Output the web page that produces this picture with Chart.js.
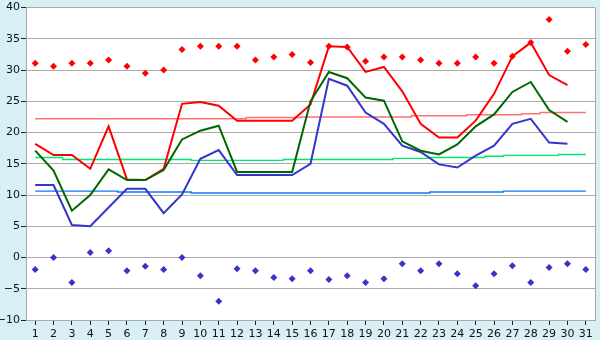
<!DOCTYPE html>
<html>
<head>
<meta charset="utf-8">
<script src="https://cdn.jsdelivr.net/npm/chart.js@4/dist/chart.umd.min.js"></script>
<style>
  html, body { margin: 0; padding: 0; background: #d9eff6; }
  #wrap { width: 600px; height: 340px; }
</style>
</head>
<body>
<div id="wrap"><canvas id="temps" width="600" height="340"></canvas></div>
<script>
"use strict";

var days = [];
for (var i = 1; i <= 31; i++) days.push(String(i));

// daily lines
var maxLine  = [18.2, 16.4, 16.4, 14.2, 21.0, 12.5, 12.4, 14.2, 24.6, 24.9, 24.3, 21.9, 21.9, 21.9, 21.9, 24.5,
                33.8, 33.7, 29.7, 30.5, 26.6, 21.4, 19.2, 19.2, 21.9, 26.2, 32.2, 34.4, 29.2, 27.6, null];
var meanLine = [17.1, 13.9, 7.5, 10.0, 14.1, 12.4, 12.4, 14.0, 18.9, 20.3, 21.1, 13.7, 13.7, 13.7, 13.7, 25.0,
                29.7, 28.7, 25.6, 25.1, 18.6, 17.1, 16.5, 18.1, 21.0, 22.9, 26.5, 28.1, 23.6, 21.7, null];
var minLine  = [11.6, 11.6, 5.2, 5.0, 8.0, 11.0, 11.0, 7.1, 10.1, 15.8, 17.2, 13.2, 13.2, 13.2, 13.2, 15.0,
                28.6, 27.5, 23.2, 21.4, 17.9, 16.9, 14.9, 14.4, 16.3, 17.9, 21.4, 22.2, 18.4, 18.2, null];

// normals (thin lines)
var normMax  = [22.2, 22.2, 22.2, 22.2, 22.2, 22.2, 22.2, 22.2, 22.2, 22.2, 22.2, 22.2, 22.4, 22.4, 22.4, 22.5,
                22.5, 22.5, 22.5, 22.5, 22.5, 22.7, 22.7, 22.7, 22.85, 22.85, 22.85, 23.0, 23.2, 23.2, 23.2];
var normMean = [16.0, 16.0, 15.7, 15.7, 15.7, 15.7, 15.7, 15.7, 15.7, 15.55, 15.55, 15.55, 15.55, 15.55, 15.7, 15.7,
                15.7, 15.7, 15.7, 15.7, 15.87, 15.87, 16.0, 16.0, 16.0, 16.2, 16.35, 16.35, 16.35, 16.5, 16.5];
var normMin  = [10.63, 10.63, 10.63, 10.63, 10.63, 10.48, 10.48, 10.48, 10.48, 10.32, 10.32, 10.32, 10.32, 10.32, 10.32, 10.32,
                10.32, 10.32, 10.32, 10.32, 10.32, 10.32, 10.48, 10.48, 10.48, 10.48, 10.63, 10.63, 10.63, 10.63, 10.63];

// record points
var recordHigh = [31.1, 30.6, 31.1, 31.1, 31.6, 30.6, 29.5, 30.0, 33.3, 33.8, 33.8, 33.8, 31.6, 32.1, 32.5, 31.2,
                  33.8, 33.7, 31.4, 32.1, 32.1, 31.6, 31.1, 31.1, 32.1, 31.1, 32.2, 34.4, 38.1, 33.0, 34.1];
var recordLow  = [-1.9, 0.0, -4.0, 0.8, 1.1, -2.1, -1.4, -1.9, 0.0, -2.9, -7.0, -1.8, -2.1, -3.2, -3.4, -2.1,
                  -3.5, -2.9, -4.0, -3.4, -1.0, -2.1, -1.0, -2.6, -4.5, -2.6, -1.3, -4.0, -1.6, -1.0, -1.9];

var yTicks = [-10, -5, 0, 5, 10, 15, 20, 25, 30, 35, 40];

function lineSet(label, data, color, width, order, stepped) {
    return {
        type: 'line',
        label: label,
        data: data,
        borderColor: color,
        backgroundColor: color,
        borderWidth: width,
        pointRadius: 0,
        tension: 0,
        fill: false,
        stepped: stepped ? 'middle' : false,
        order: order
    };
}

function pointSet(label, data, color) {
    return {
        type: 'line',
        label: label,
        data: data,
        showLine: false,
        pointStyle: 'rectRot',
        pointRadius: 3.5,
        borderWidth: 0,
        pointBackgroundColor: color,
        pointBorderColor: color,
        order: 0
    };
}

var plotBack = {
    id: 'plotBack',
    beforeDraw: function (chart) {
        var c = chart.ctx, a = chart.chartArea;
        c.save();
        c.fillStyle = '#d9eff6';
        c.fillRect(0, 0, chart.width, chart.height);
        c.fillStyle = '#ffffff';
        c.fillRect(a.left, a.top, a.right - a.left, a.bottom - a.top);
        c.restore();
    },
    afterDatasetsDraw: function (chart) {
        var c = chart.ctx, a = chart.chartArea;
        c.save();
        c.strokeStyle = '#a8a8a8';
        c.lineWidth = 1;
        c.beginPath();
        c.moveTo(Math.round(a.right) + 0.5, a.top);
        c.lineTo(Math.round(a.right) + 0.5, a.bottom);
        c.stroke();
        c.restore();
    }
};

var ctx = document.getElementById('temps');

var myChart = new Chart(ctx, {
    data: {
        labels: days,
        datasets: [
            lineSet('Max', maxLine, '#ff0000', 2, 2),
            lineSet('Mean', meanLine, '#006600', 2, 1),
            lineSet('Min', minLine, '#3535c8', 2, 3),
            lineSet('Normal max', normMax, '#ff7070', 1.4, 6, true),
            lineSet('Normal mean', normMean, '#00e870', 1.4, 5, true),
            lineSet('Normal min', normMin, '#0a78ff', 1.4, 7, true),
            pointSet('Record high', recordHigh, '#ff0000'),
            pointSet('Record low', recordLow, '#3535c8')
        ]
    },
    plugins: [plotBack],
    options: {
        responsive: false,
        animation: false,
        layout: { padding: { top: 5, right: 5, left: 0, bottom: 0 } },
        plugins: {
            legend: { display: false },
            tooltip: { enabled: false }
        },
        scales: {
            x: {
                type: 'category',
                offset: true,
                grid: {
                    offset: false,
                    drawOnChartArea: false,
                    drawTicks: true,
                    tickLength: 5,
                    tickColor: '#222'
                },
                border: { color: '#a8a8a8' },
                ticks: {
                    color: '#111',
                    padding: 3,
                    maxRotation: 0,
                    autoSkip: false,
                    font: { family: 'DejaVu Sans', size: 11 }
                },
                afterFit: function (scale) { scale.height = 20; }
            },
            y: {
                min: -10,
                max: 40,
                afterBuildTicks: function (scale) {
                    scale.ticks = yTicks.map(function (v) { return { value: v }; });
                },
                grid: {
                    color: '#aaaaaa',
                    tickLength: 5,
                    tickColor: '#222'
                },
                border: { color: '#a8a8a8' },
                ticks: {
                    color: '#111',
                    padding: 1,
                    font: { family: 'DejaVu Sans', size: 11 },
                    callback: function (v) { return String(v).replace('-', '\u2212'); }
                },
                afterFit: function (scale) { scale.width = 26; }
            }
        }
    }
});
</script>
</body>
</html>
